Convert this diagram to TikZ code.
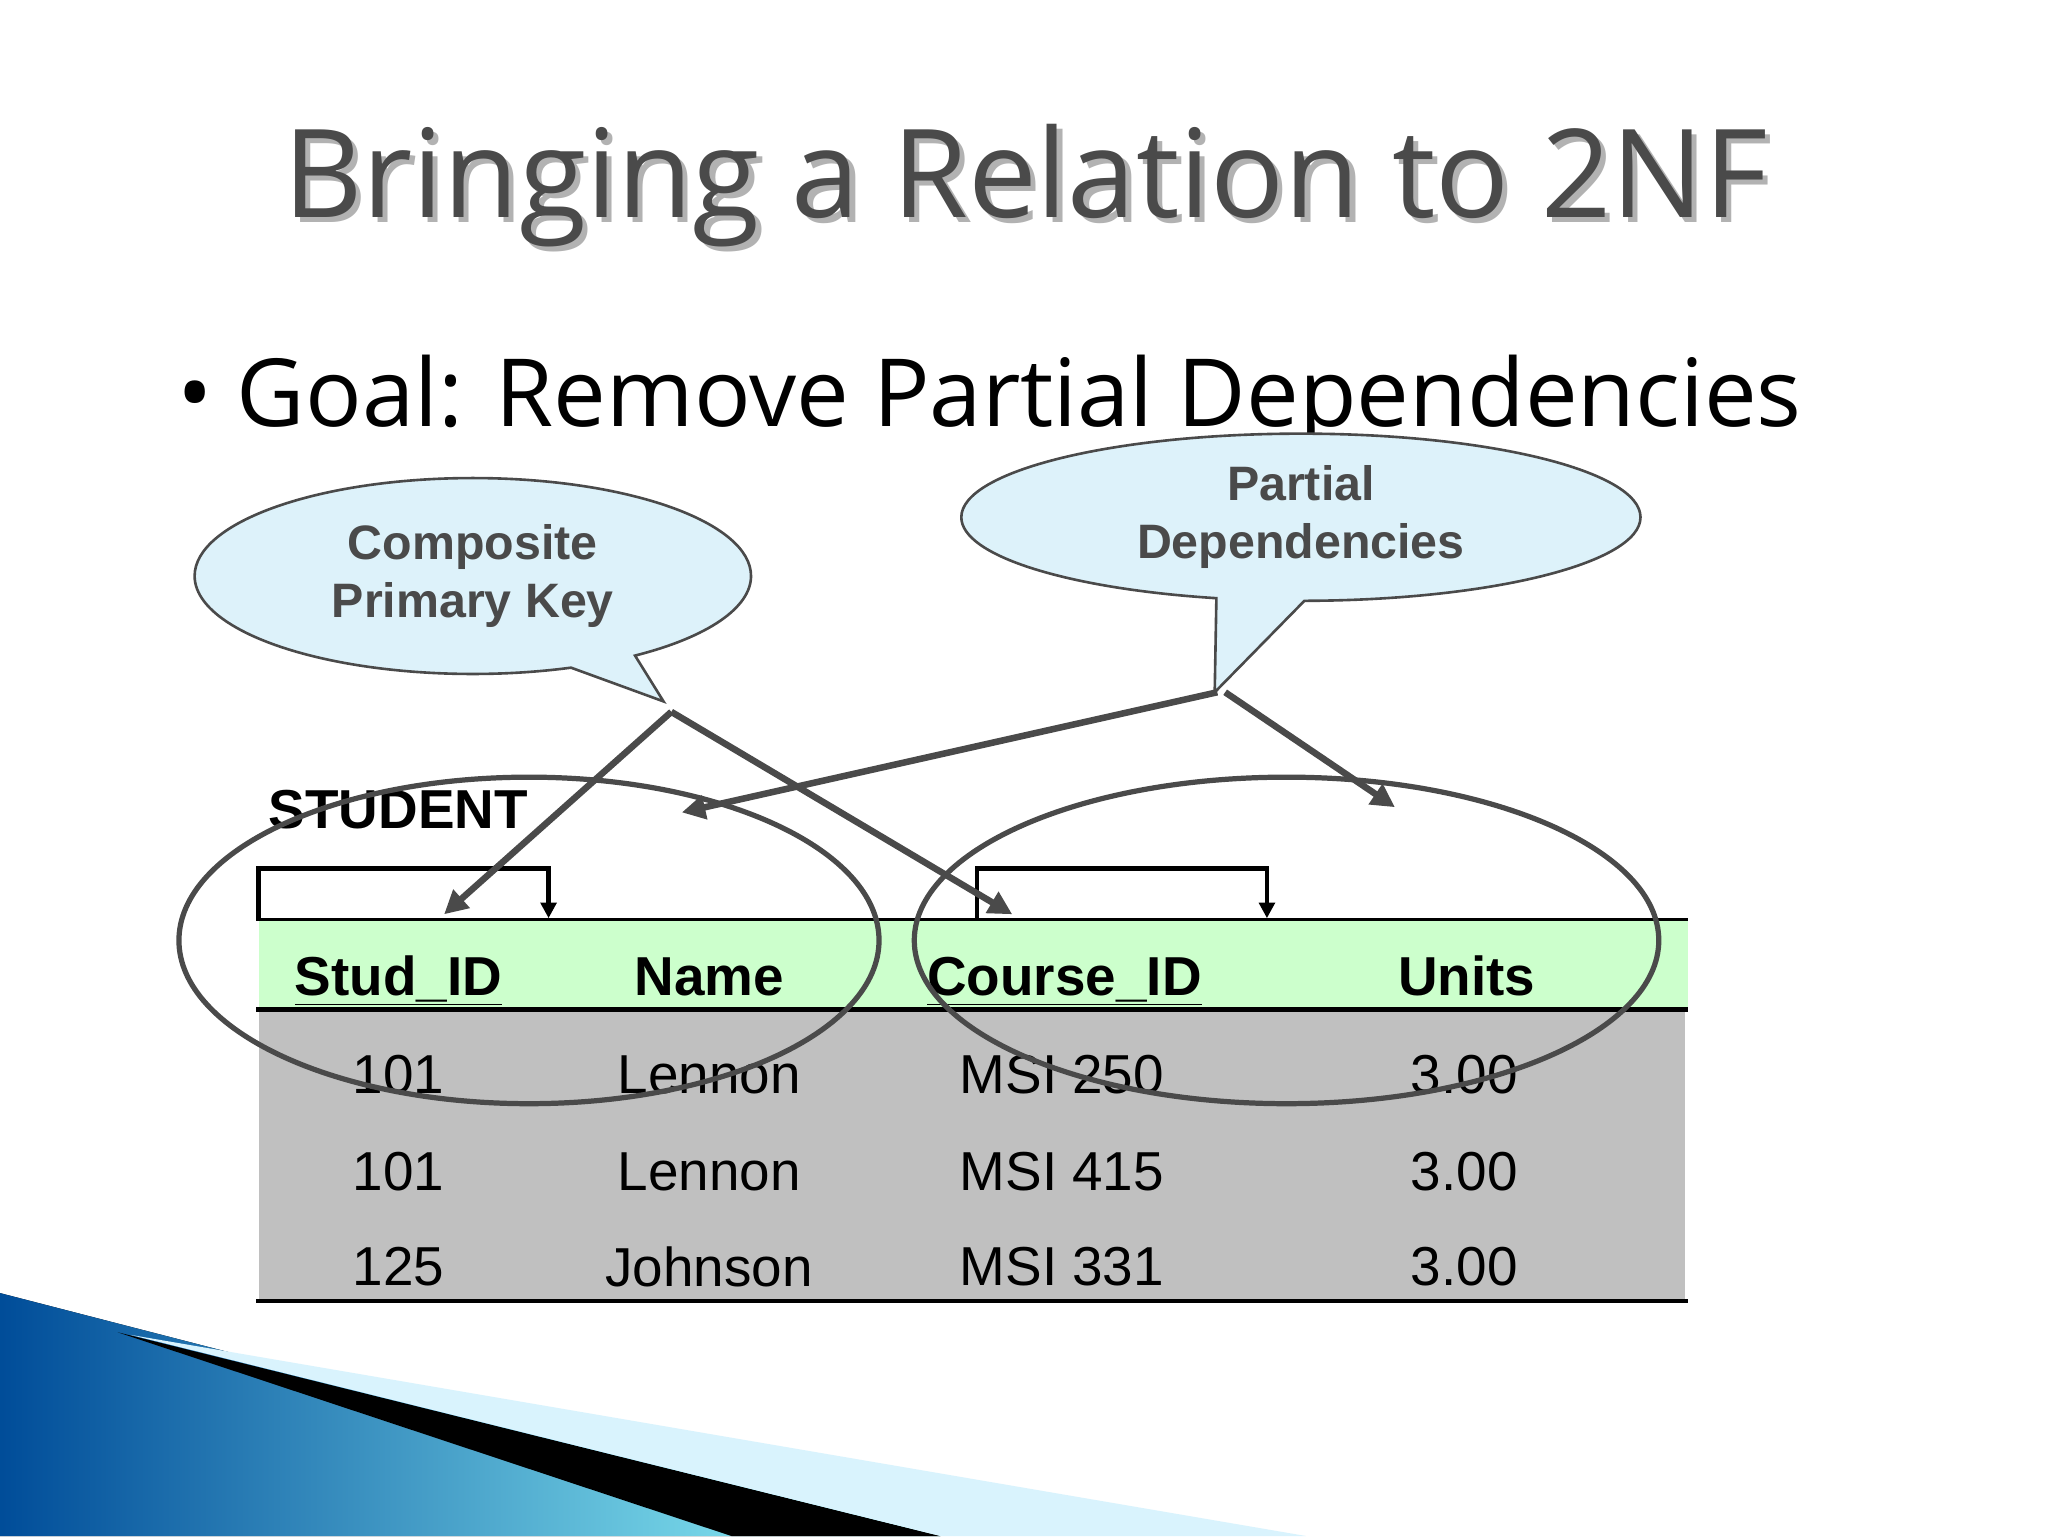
\documentclass[tikz,border=0pt]{standalone}
\usepackage{fontspec}
\setmainfont{Liberation Sans}
\newfontfamily\titlefont{Open Sans}
\usetikzlibrary{arrows.meta,shapes.callouts}
\definecolor{callfill}{HTML}{DDF2FA}
\definecolor{dgray}{HTML}{4A4A4A}
\definecolor{hdr}{HTML}{CCFFCC}
\definecolor{body}{HTML}{C0C0C0}
\begin{document}
\begin{tikzpicture}[x=1pt,y=-1pt,
  calltext/.style={font=\fontsize{37}{44}\selectfont\bfseries,text=dgray,align=center},
  arr/.style={draw=dgray,line width=5pt,-{Triangle[length=18pt,width=18pt]}},
  bigell/.style={draw=dgray,line width=4pt},
  hd/.style={font=\fontsize{42}{48}\selectfont\bfseries,anchor=base},
  cell/.style={font=\fontsize{42}{48}\selectfont},
  brk/.style={draw=black,line width=3.5pt,-{Triangle[length=12pt,width=12pt]}}]
\useasboundingbox (0,0) rectangle (1568,1176);
\fill[white] (0,0) rectangle (1568,1176);
% decorative swoosh
\fill[left color=cyan!50!blue!60!black,right color=cyan!40] (0,990) -- (720,1176) -- (0,1176) -- cycle;
\fill[black] (90,1020) -- (720,1176) -- (560,1176) -- cycle;
\fill[cyan!15] (100,1022) -- (1000,1176) -- (720,1176) -- cycle;
% title
\node[font=\titlefont\fontsize{94}{100}\selectfont,text=black!30] at (789,146) {Bringing a Relation to 2NF};
\node[font=\titlefont\fontsize{94}{100}\selectfont,text=dgray] (title) at (785,142) {Bringing a Relation to 2NF};
\node[font=\titlefont\fontsize{72}{80}\selectfont,anchor=west] (goal) at (132,308) {•\ Goal: Remove Partial Dependencies};
% callouts
\node[ellipse callout,draw=dgray,line width=2pt,fill=callfill,minimum width=426pt,minimum height=150pt,
  callout absolute pointer={(508,537)},calltext] (c1) at (362,441) {Composite\\Primary Key};
\node[ellipse callout,draw=dgray,line width=2pt,fill=callfill,minimum width=520pt,minimum height=128pt,
  callout absolute pointer={(930,530)},calltext] (c2) at (996,396) {Partial\\Dependencies};
% table
\fill[hdr] (198,704) rectangle (1292,773);
\fill[body] (198,773) rectangle (1290,996);
\draw[line width=2pt] (196,704) -- (1292,704);
\draw[line width=4pt] (196,773) -- (1292,773);
\draw[line width=3pt] (196,996) -- (1292,996);
\node[font=\fontsize{42}{48}\selectfont\bfseries] (stu) at (305,620) {STUDENT};
\node[hd] (h1) at (305,762) {\underline{Stud\_ID}};
\node[hd] (h2) at (543,762) {Name};
\node[hd] (h3) at (815,762) {\underline{Course\_ID}};
\node[hd] (h4) at (1123,762) {Units};
\foreach \y/\a/\b/\c in {823/101/Lennon/MSI 250,897/101/Lennon/MSI 415,970/125/Johnson/MSI 331}{
  \node[cell] at (305,\y) {\a};
  \node[cell] at (543,\y) {\b};
  \node[cell] at (813,\y) {\c};
  \node[cell] at (1121,\y) {3.00};
}
% brackets
\draw[brk] (198,703) -- (198,665) -- (420,665) -- (420,703);
\draw[brk] (748,703) -- (748,665) -- (970,665) -- (970,703);
% big ellipses
\draw[bigell] (405,720) ellipse [x radius=268,y radius=125];
\draw[bigell] (985,720) ellipse [x radius=285,y radius=125];
% arrows
\coordinate (p1) at (514,545);
\coordinate (p2) at (932,530);
\draw[arr] (p1) -- (340,700);
\draw[arr] (p1) -- (775,700);
\draw[arr] (p2) -- (522,622);
\draw[arr] (938,530) -- (1068,618);
\end{tikzpicture}
\end{document}
